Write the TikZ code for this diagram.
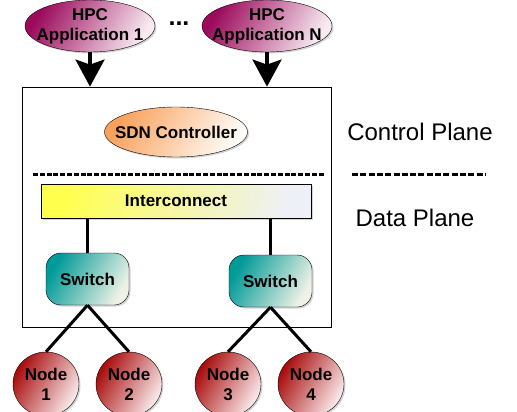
\documentclass[tikz,border=0pt]{standalone}
\usepackage{fontspec}
\setmainfont{Liberation Sans}
\usetikzlibrary{arrows.meta,positioning,shapes.geometric,shadows}
\definecolor{AppPurple}{HTML}{9C0A5C}
\definecolor{AppPurpleLight}{HTML}{F8EAF1}
\definecolor{CtrlOrange}{HTML}{F9A25E}
\definecolor{CtrlOrangeLight}{HTML}{FFFBF6}
\definecolor{BusYellow}{HTML}{FFFF4E}
\definecolor{BusYellowLight}{HTML}{EEF0F8}
\definecolor{SwitchTeal}{HTML}{009A98}
\definecolor{SwitchTealLight}{HTML}{EEF2E6}
\definecolor{HostRed}{HTML}{A80A0A}
\definecolor{HostRedLight}{HTML}{FBEDEE}

\tikzset{
  boldtext/.style={font=\fontsize{17}{20}\selectfont\bfseries, align=center},
  softshadow/.style={drop shadow={opacity=0.35, shadow xshift=1.5pt, shadow yshift=-1.5pt}},
  appnode/.style={ellipse, draw, thin, boldtext, softshadow, inner sep=-25pt,
    minimum width=130pt, minimum height=52pt,
    left color=AppPurple, right color=AppPurpleLight, shading angle=60},
  ctrlnode/.style={ellipse, draw, thin, boldtext, softshadow, inner sep=-25pt,
    minimum width=143pt, minimum height=50pt,
    left color=CtrlOrange, right color=CtrlOrangeLight, shading angle=60},
  busbar/.style={rectangle, draw, thin, boldtext, softshadow,
    minimum width=270pt, minimum height=34pt,
    left color=BusYellow, right color=BusYellowLight, shading angle=75},
  switchnode/.style={rectangle, rounded corners=15pt, draw, thin, boldtext, softshadow,
    minimum width=83pt, minimum height=52pt,
    left color=SwitchTeal, right color=SwitchTealLight, shading angle=60},
  hostnode/.style={ellipse, draw, thin, boldtext, softshadow, inner sep=0pt,
    minimum width=66pt, minimum height=64pt,
    left color=HostRed, right color=HostRedLight, shading angle=60},
  wire/.style={line width=3pt, black},
  apparrow/.style={line width=3.5pt, -{Stealth[length=27pt, width=29pt, inset=5pt]}},
  planetext/.style={font=\fontsize{24}{28}\selectfont},
  planesep/.style={line width=3pt, dash pattern=on 5pt off 1.8pt}
}

\begin{document}
\begin{tikzpicture}[x=1pt,y=-1pt]
    \useasboundingbox (0,0) rectangle (517,412);

    % Applications
    \node[appnode] (app1) at (90,26) {HPC\\Application 1};
    \node[appnode] (appN) at (267,26) {HPC\\Application N};
    \node[font=\fontsize{25}{28}\selectfont\bfseries] (dots) at (179,24) {...};

    % Controller box
    \node[draw, line width=0.8pt, minimum width=309pt, minimum height=240pt, inner sep=0pt] (ctrlbox) at (176.5,207) {};
    \draw[apparrow] (app1.south) -- (app1.south |- ctrlbox.north);
    \draw[apparrow] (appN.south) -- (appN.south |- ctrlbox.north);

    \node[ctrlnode] (sdn) at (176,132) {SDN Controller};

    % Plane separator
    \coordinate (sepL) at (33,174);
    \coordinate (sepR) at (325,174);
    \draw[planesep] (sepL) -- (sepR);

    % Data plane
    \node[busbar] (bus) at (176,201) {Interconnect};
    \node[switchnode] (sw1) at (87.5,279) {Switch};
    \node[switchnode] (sw2) at (270.5,281) {Switch};
    \draw[wire] (sw1.north |- bus.south) -- (sw1.north);
    \draw[wire] (sw2.north |- bus.south) -- (sw2.north);

    % Compute nodes
    \node[hostnode] (host1) at (46,384) {Node\\1};
    \node[hostnode] (host2) at (129,384) {Node\\2};
    \node[hostnode] (host3) at (228,384) {Node\\3};
    \node[hostnode] (host4) at (311,384) {Node\\4};
    \draw[wire] (sw1.south) -- (host1.north);
    \draw[wire] (sw1.south) -- (host2.north);
    \draw[wire] (sw2.south) -- (host3.north);
    \draw[wire] (sw2.south) -- (host4.north);

    % Plane labels
    \node[planetext] (ctrlplane) at (420,132) {Control Plane};
    \node[planetext] (dataplane) at (415,218) {Data Plane};
    \coordinate (legL) at (352,174);
    \coordinate (legR) at (486,174);
    \draw[planesep, dash pattern=on 6pt off 2.3pt] (legL) -- (legR);
\end{tikzpicture}
\end{document}
